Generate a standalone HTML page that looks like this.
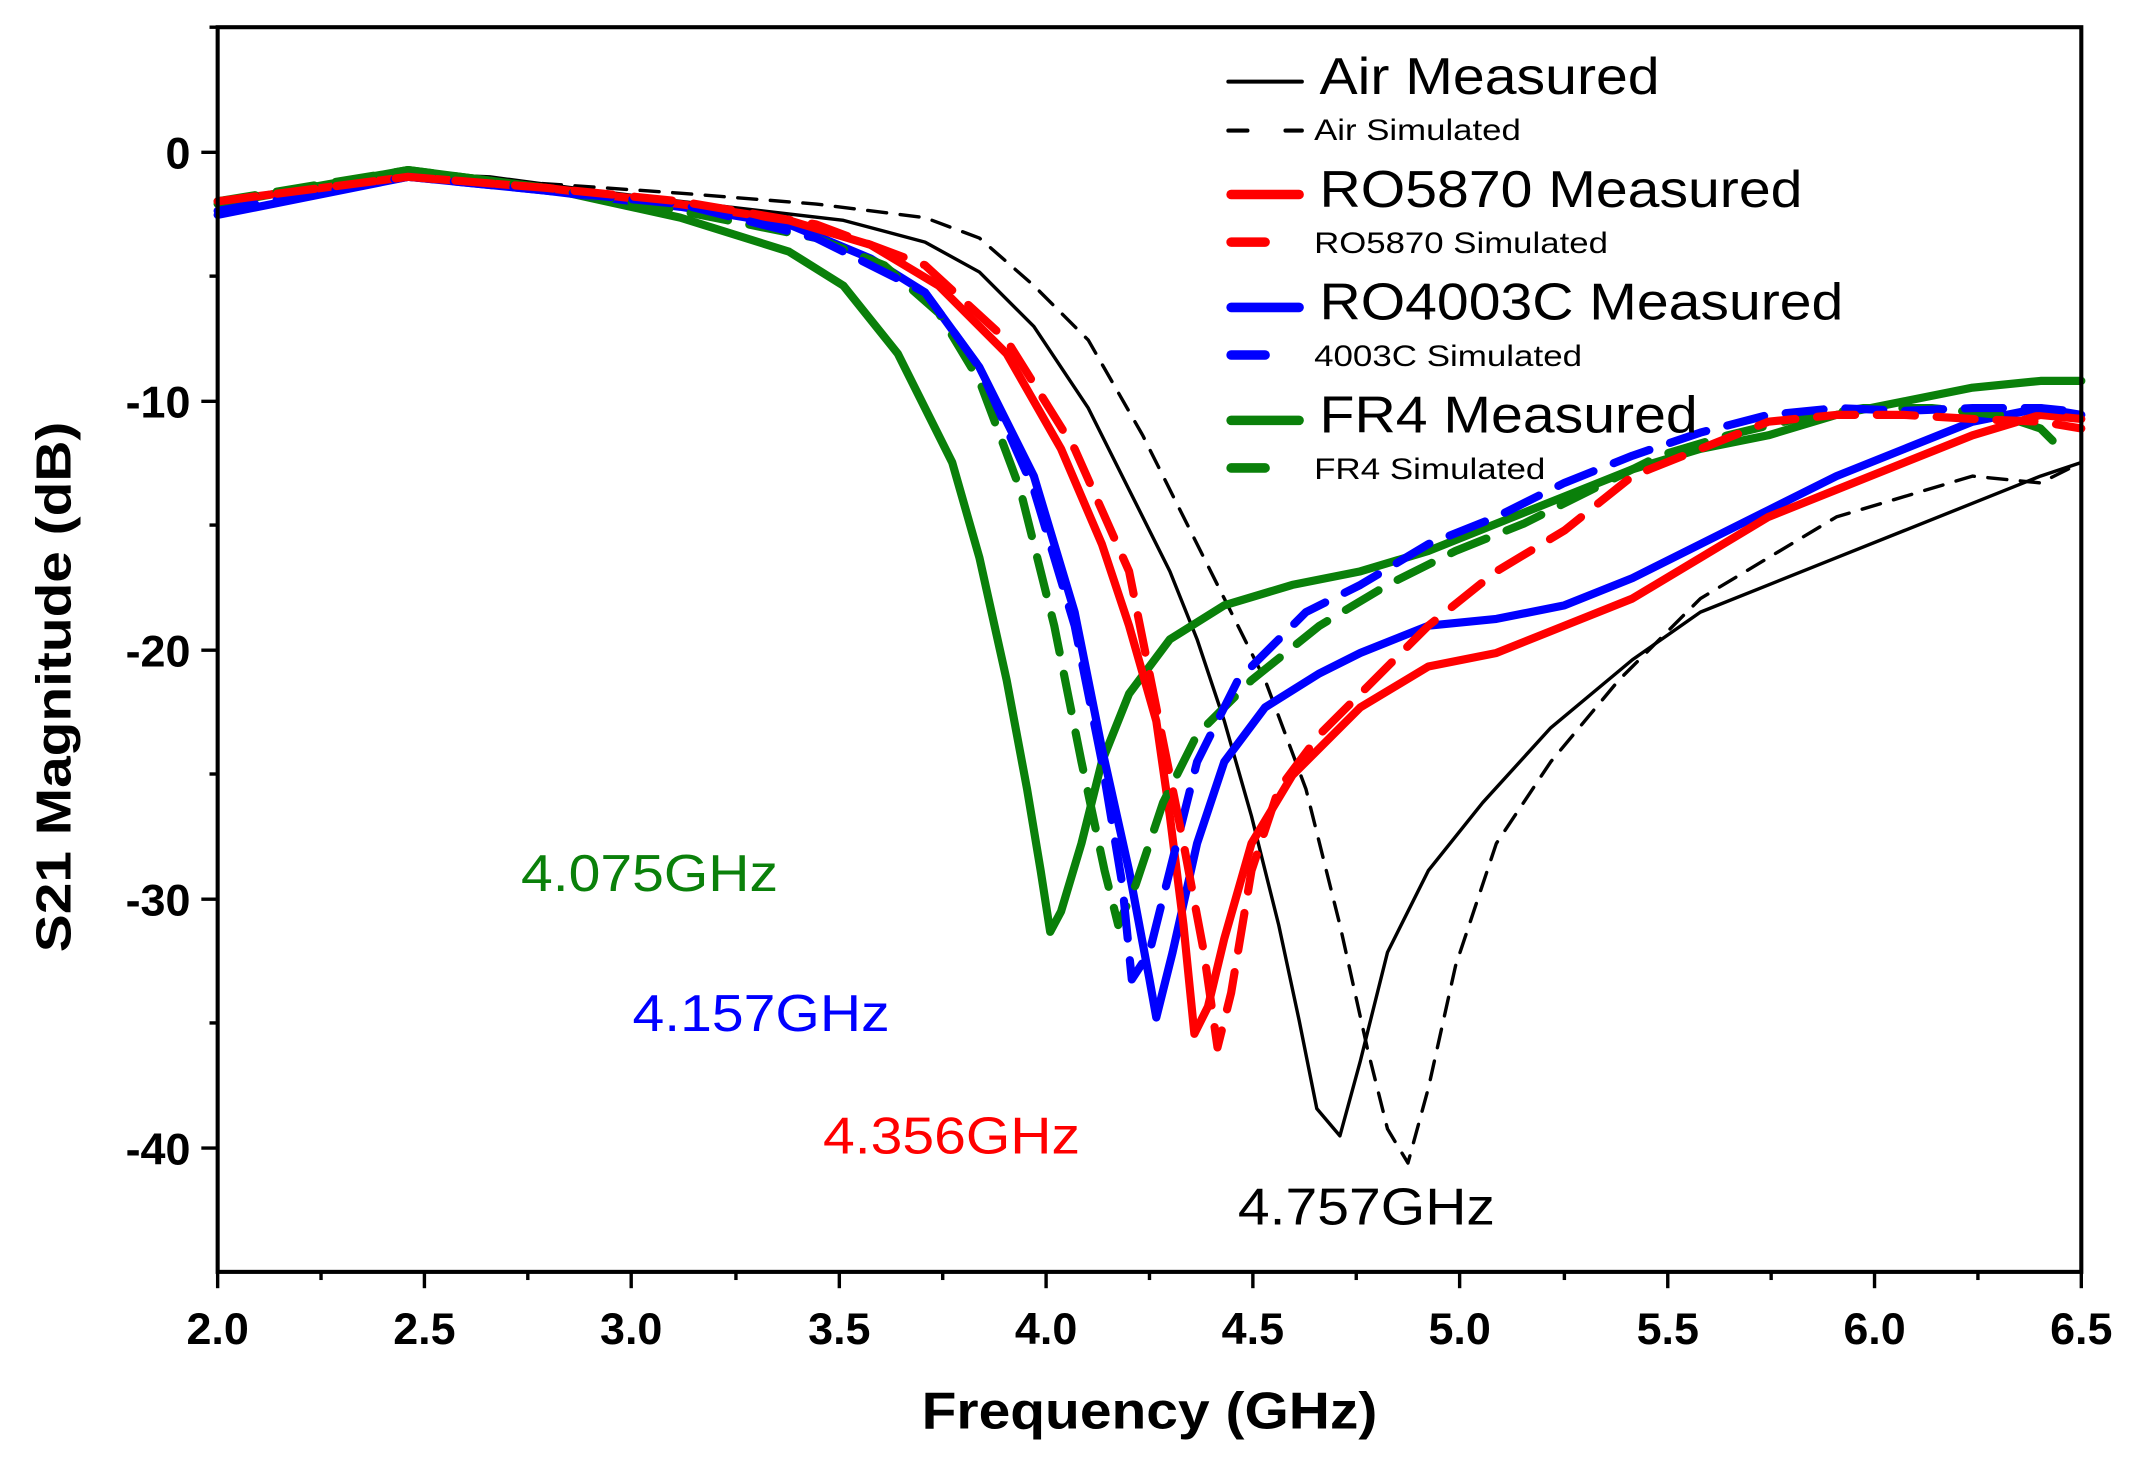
<!DOCTYPE html>
<html><head><meta charset="utf-8"><style>
html,body{margin:0;padding:0;background:#fff;}
svg{display:block;}
text{font-family:"Liberation Sans",Arial,sans-serif;}
.t{font-weight:bold;font-size:33px;}
</style></head><body>
<svg width="2133" height="1463" viewBox="0 0 1568 1075.5" preserveAspectRatio="none" xmlns="http://www.w3.org/2000/svg">
<rect width="1568" height="1075.5" fill="#fff"/>
<g fill="none" stroke-linejoin="round" stroke-linecap="round">
<polyline stroke="#000" stroke-width="2.5" stroke-dasharray="14,10" points="160,148 300,130 400,135 500,142 600,150 680,160 720,175 760,210 800,250 840,320 870,380 900,440 930,500 960,580 985,680 1005,770 1020,830 1035,855 1050,800 1070,710 1100,620 1140,560 1190,500 1250,440 1300,410 1350,380 1400,365 1450,350 1500,355 1530,340"/>
<polyline stroke="#000" stroke-width="2.5" points="160,148 250,137 310,128 360,130 420,138 500,148 560,155 620,162 680,178 720,200 760,240 800,300 830,360 860,420 880,470 900,530 920,600 940,680 955,750 968,815 985,835 1000,780 1020,700 1050,640 1090,590 1140,535 1200,485 1250,450 1300,430 1350,410 1400,390 1450,370 1500,350 1530,340"/>
<polyline stroke="#0a800a" stroke-width="6" points="160,150 300,125 400,138 500,160 580,185 620,210 660,260 700,340 720,410 740,500 755,580 765,640 772,685 780,670 795,620 810,560 830,510 860,470 900,445 950,430 1000,420 1050,405 1100,385 1150,365 1200,345 1250,330 1300,320 1350,305 1400,295 1450,285 1500,280 1530,280"/>
<polyline stroke="#0000ff" stroke-width="6" points="160,158 300,130 400,140 500,152 580,165 640,190 680,215 720,270 760,350 790,450 810,550 830,640 845,720 850,748 862,700 880,620 900,560 930,520 970,495 1000,480 1050,460 1100,455 1150,445 1200,425 1250,400 1300,375 1350,350 1400,330 1450,310 1500,300 1530,305"/>
<polyline stroke="#ff0000" stroke-width="6" points="160,148 300,130 400,138 500,150 580,162 640,180 690,210 740,260 780,330 810,400 830,460 850,530 860,600 870,680 878,760 888,740 900,690 920,620 950,570 1000,520 1050,490 1100,480 1150,460 1200,440 1250,410 1300,380 1350,360 1400,340 1450,320 1500,305 1530,308"/>
<polyline stroke="#0a800a" stroke-width="6" stroke-dasharray="28,16" points="160,148 300,125 400,138 500,155 600,175 650,195 690,230 720,280 750,360 775,460 795,560 812,640 822,680 835,650 855,590 880,540 920,500 970,460 1020,430 1070,405 1120,385 1170,360 1220,335 1270,320 1320,308 1370,300 1420,300 1470,305 1500,315 1510,325"/>
<polyline stroke="#0000ff" stroke-width="6" stroke-dasharray="28,16" points="160,155 300,130 400,140 500,150 600,175 680,215 720,270 760,360 790,460 810,560 825,650 832,720 845,700 860,640 880,560 910,500 960,450 1000,430 1050,400 1100,380 1150,355 1200,335 1250,318 1300,305 1350,300 1400,302 1450,300 1500,300 1530,303"/>
<polyline stroke="#ff0000" stroke-width="6" stroke-dasharray="28,16" points="160,148 300,130 400,138 500,148 600,165 680,195 740,250 790,330 830,420 850,520 870,620 885,700 895,770 905,730 920,640 940,580 970,540 1000,510 1050,460 1100,420 1150,390 1200,350 1250,330 1300,310 1350,305 1400,305 1450,308 1500,310 1530,315"/>
</g>
<rect x="160" y="20" width="1370" height="915" fill="none" stroke="#000" stroke-width="3"/>
<g stroke="#000" stroke-width="2.5">
<line x1="160" y1="935" x2="160" y2="947"/><line x1="312" y1="935" x2="312" y2="947"/><line x1="464" y1="935" x2="464" y2="947"/><line x1="617" y1="935" x2="617" y2="947"/><line x1="769" y1="935" x2="769" y2="947"/><line x1="921" y1="935" x2="921" y2="947"/><line x1="1073" y1="935" x2="1073" y2="947"/><line x1="1226" y1="935" x2="1226" y2="947"/><line x1="1378" y1="935" x2="1378" y2="947"/><line x1="1530" y1="935" x2="1530" y2="947"/>
<line x1="236" y1="935" x2="236" y2="941"/><line x1="388" y1="935" x2="388" y2="941"/><line x1="541" y1="935" x2="541" y2="941"/><line x1="693" y1="935" x2="693" y2="941"/><line x1="845" y1="935" x2="845" y2="941"/><line x1="997" y1="935" x2="997" y2="941"/><line x1="1150" y1="935" x2="1150" y2="941"/><line x1="1302" y1="935" x2="1302" y2="941"/><line x1="1454" y1="935" x2="1454" y2="941"/>
<line x1="148" y1="112" x2="160" y2="112"/><line x1="148" y1="295" x2="160" y2="295"/><line x1="148" y1="478" x2="160" y2="478"/><line x1="148" y1="661" x2="160" y2="661"/><line x1="148" y1="844" x2="160" y2="844"/>
<line x1="154" y1="20" x2="160" y2="20"/><line x1="154" y1="203" x2="160" y2="203"/><line x1="154" y1="386" x2="160" y2="386"/><line x1="154" y1="569" x2="160" y2="569"/><line x1="154" y1="752" x2="160" y2="752"/>
</g>
<g text-anchor="middle">
<text x="160" y="988" class="t">2.0</text><text x="312" y="988" class="t">2.5</text><text x="464" y="988" class="t">3.0</text><text x="617" y="988" class="t">3.5</text><text x="769" y="988" class="t">4.0</text><text x="921" y="988" class="t">4.5</text><text x="1073" y="988" class="t">5.0</text><text x="1226" y="988" class="t">5.5</text><text x="1378" y="988" class="t">6.0</text><text x="1530" y="988" class="t">6.5</text>
</g>
<g text-anchor="end">
<text x="140" y="124" class="t">0</text><text x="140" y="307" class="t">-10</text><text x="140" y="490" class="t">-20</text><text x="140" y="673" class="t">-30</text><text x="140" y="856" class="t">-40</text>
</g>
<text x="845" y="1050" text-anchor="middle" font-weight="bold" font-size="38" textLength="335" lengthAdjust="spacingAndGlyphs">Frequency (GHz)</text>
<text transform="translate(52,505) rotate(-90)" text-anchor="middle" font-weight="bold" font-size="36" textLength="390" lengthAdjust="spacingAndGlyphs">S21 Magnitude (dB)</text>
<g stroke-linecap="round">
<line x1="903" y1="60" x2="957" y2="60" stroke="#000" stroke-width="3"/>
<line x1="903" y1="96" x2="917" y2="96" stroke="#000" stroke-width="3"/><line x1="945" y1="96" x2="957" y2="96" stroke="#000" stroke-width="3"/>
<line x1="905" y1="143" x2="955" y2="143" stroke="#f00" stroke-width="7"/>
<line x1="905" y1="178" x2="930" y2="178" stroke="#f00" stroke-width="7"/>
<line x1="905" y1="226" x2="955" y2="226" stroke="#00f" stroke-width="7"/>
<line x1="905" y1="261" x2="930" y2="261" stroke="#00f" stroke-width="7"/>
<line x1="905" y1="309" x2="955" y2="309" stroke="#0a800a" stroke-width="7"/>
<line x1="905" y1="344" x2="930" y2="344" stroke="#0a800a" stroke-width="7"/>
</g>
<g font-size="38" lengthAdjust="spacingAndGlyphs">
<text x="970" y="69" textLength="250" lengthAdjust="spacingAndGlyphs">Air Measured</text>
<text x="970" y="152" textLength="355" lengthAdjust="spacingAndGlyphs">RO5870 Measured</text>
<text x="970" y="235" textLength="385" lengthAdjust="spacingAndGlyphs">RO4003C Measured</text>
<text x="970" y="318" textLength="278" lengthAdjust="spacingAndGlyphs">FR4 Measured</text>
</g>
<g font-size="22">
<text x="966" y="103" textLength="152" lengthAdjust="spacingAndGlyphs">Air Simulated</text>
<text x="966" y="186" textLength="216" lengthAdjust="spacingAndGlyphs">RO5870 Simulated</text>
<text x="966" y="269" textLength="197" lengthAdjust="spacingAndGlyphs">4003C Simulated</text>
<text x="966" y="352" textLength="170" lengthAdjust="spacingAndGlyphs">FR4 Simulated</text>
</g>
<g font-size="38">
<text x="383" y="655" fill="#0a800a" textLength="189" lengthAdjust="spacingAndGlyphs">4.075GHz</text>
<text x="465" y="758" fill="#00f" textLength="189" lengthAdjust="spacingAndGlyphs">4.157GHz</text>
<text x="605" y="848" fill="#f00" textLength="189" lengthAdjust="spacingAndGlyphs">4.356GHz</text>
<text x="910" y="900" fill="#000" textLength="189" lengthAdjust="spacingAndGlyphs">4.757GHz</text>
</g>
</svg>
</body></html>
